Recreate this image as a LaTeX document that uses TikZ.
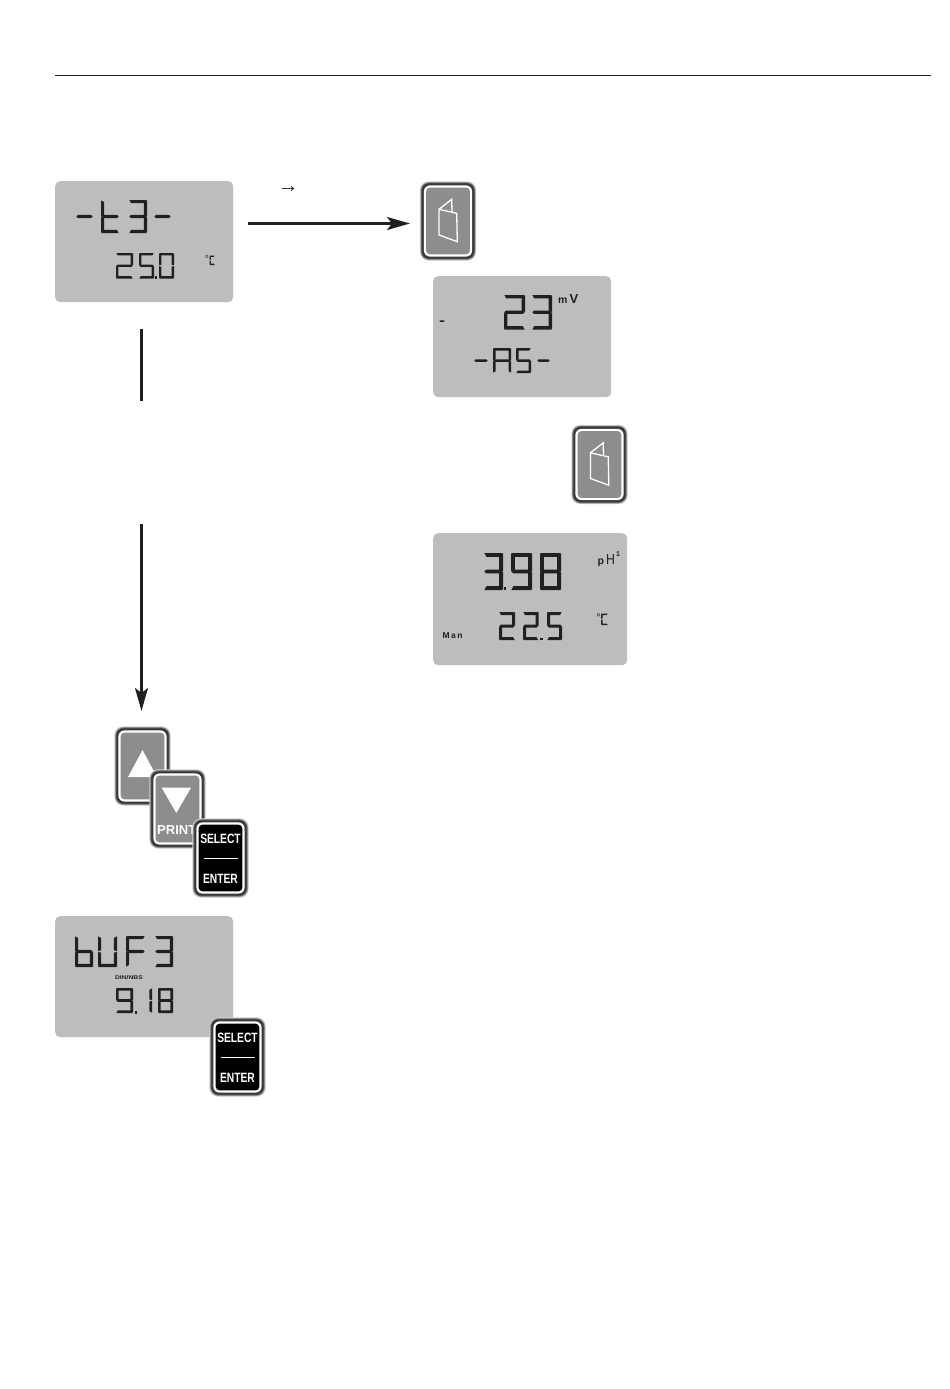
\documentclass[tikz,border=0pt]{standalone}
\usepackage{fontspec}
\setmainfont{Liberation Sans}
\usetikzlibrary{arrows.meta}
\definecolor{lcdbg}{HTML}{BDBDBD}
\definecolor{lcdink}{HTML}{231F20}
\definecolor{keygrey}{HTML}{8E8C8C}
\tikzset{
  panel/.style={fill=lcdbg,draw=none,rounded corners=5pt,inner sep=0pt,anchor=north west},
  conn/.style={draw=lcdink,line width=2.2pt},
  connarrow/.style={conn,-{Stealth[length=23pt,width=13pt,inset=5pt]}},
  lcdsmall/.style={text=lcdink,inner sep=0pt},
  keytext/.style={text=white,inner sep=0pt,font=\bfseries\fontsize{13.5}{14}\selectfont,xscale=0.76},
  bookline/.style={draw=white,line width=1.3pt,line join=miter},
}
% bevel \Db = how far the inner edge of a segment is cut back
\newcommand\SegA{\fill[lcdink] (\Dx+\Dg,\Dy) -- (\Dx+\Dw-\Dg,\Dy) -- (\Dx+\Dw-\Dg-\Db,\Dy+\Dt) -- (\Dx+\Dg+\Db,\Dy+\Dt) -- cycle;}
\newcommand\SegD{\fill[lcdink] (\Dx+\Dg,\Dy+\Dh) -- (\Dx+\Dw-\Dg,\Dy+\Dh) -- (\Dx+\Dw-\Dg-\Db,\Dy+\Dh-\Dt) -- (\Dx+\Dg+\Db,\Dy+\Dh-\Dt) -- cycle;}
\newcommand\SegG{\fill[lcdink] (\Dx+\Dg,\Dy+\Dh/2) -- (\Dx+\Dg+\Db,\Dy+\Dh/2-\Dt/2) -- (\Dx+\Dw-\Dg-\Db,\Dy+\Dh/2-\Dt/2) -- (\Dx+\Dw-\Dg,\Dy+\Dh/2) -- (\Dx+\Dw-\Dg-\Db,\Dy+\Dh/2+\Dt/2) -- (\Dx+\Dg+\Db,\Dy+\Dh/2+\Dt/2) -- cycle;}
\newcommand\SegF{\fill[lcdink] (\Dx,\Dy+\Dg) -- (\Dx+\Dt,\Dy+\Dg+\Db) -- (\Dx+\Dt,\Dy+\Dh/2-\Dg-\Db/2) -- (\Dx,\Dy+\Dh/2-\Dg) -- cycle;}
\newcommand\SegE{\fill[lcdink] (\Dx,\Dy+\Dh/2+\Dg) -- (\Dx+\Dt,\Dy+\Dh/2+\Dg+\Db/2) -- (\Dx+\Dt,\Dy+\Dh-\Dg-\Db) -- (\Dx,\Dy+\Dh-\Dg) -- cycle;}
\newcommand\SegB{\fill[lcdink] (\Dx+\Dw,\Dy+\Dg) -- (\Dx+\Dw-\Dt,\Dy+\Dg+\Db) -- (\Dx+\Dw-\Dt,\Dy+\Dh/2-\Dg-\Db/2) -- (\Dx+\Dw,\Dy+\Dh/2-\Dg) -- cycle;}
\newcommand\SegC{\fill[lcdink] (\Dx+\Dw,\Dy+\Dh/2+\Dg) -- (\Dx+\Dw-\Dt,\Dy+\Dh/2+\Dg+\Db/2) -- (\Dx+\Dw-\Dt,\Dy+\Dh-\Dg-\Db) -- (\Dx+\Dw,\Dy+\Dh-\Dg) -- cycle;}
% #1 x, #2 top, #3 width, #4 height, #5 stroke, #6 segments
\newcommand\sevenseg[6]{%
  \def\Dx{#1}\def\Dy{#2}\def\Dw{#3}\def\Dh{#4}\def\Dt{#5}\def\Dg{0.35}\pgfmathsetmacro\Db{#5*.55}%
  \foreach \s in {#6}{\csname Seg\s\endcsname}}
\newcommand\lcddot[3]{\fill[lcdink] (#1,#2) rectangle +(#3,-#3);}
% #1 name, #2 x, #3 y, #4 face colour
\newcommand\keycap[4]{%
  \begin{scope}[shift={(#2,#3)}]
    \fill[black!18,rounded corners=9pt] (-.7,-.7) rectangle (55.7,78.7);
    \fill[black!38,rounded corners=8.5pt] (0,0) rectangle (55,78);
    \fill[black!60,rounded corners=8pt] (.7,.7) rectangle (54.3,77.3);
    \fill[black!78,rounded corners=7pt] (1.4,1.4) rectangle (53.6,76.6);
    \fill[white,rounded corners=6pt] (3.4,3.4) rectangle (51.6,74.6);
    \fill[#4,rounded corners=4pt] (5.6,5.6) rectangle (49.4,72.4);
    \coordinate (#1) at (27.5,39);
  \end{scope}}
\newcommand\bookicon[2]{%
  \begin{scope}[shift={(#1,#2)}]
    \draw[bookline] (18.5,27.3) -- (36.2,31.3) -- (36.8,59.7) -- (18.5,53) -- cycle;
    \draw[bookline] (18.5,27.3) -- (31.2,17.3) -- (31.5,30);
  \end{scope}}
\begin{document}
\begin{tikzpicture}[x=1pt,y=-1pt]
\useasboundingbox (0,0) rectangle (950,1389);
\fill[white] (0,0) rectangle (950,1389);
\coordinate (ruleL) at (55,75.5);
\coordinate (ruleR) at (931,75.5);
\draw[lcdink,line width=.8pt] (ruleL) -- (ruleR);

% panels
\node[panel,minimum width=178pt,minimum height=121pt] (p1) at (55,181) {};
\node[panel,minimum width=178pt,minimum height=121pt] (p2) at (433,276) {};
\node[panel,minimum width=194pt,minimum height=132pt] (p3) at (433,533) {};
\node[panel,minimum width=178pt,minimum height=121pt] (p4) at (55,916) {};

% panel 1
\sevenseg{76}{200}{17}{33}{3.2}{G}
\sevenseg{101}{200}{18}{33}{3.2}{F,E,G,D}
\sevenseg{129}{200}{18}{33}{3.2}{A,B,C,D,G}
\sevenseg{154}{200}{17}{33}{3.2}{G}
\sevenseg{116}{253}{17}{25.5}{2.4}{A,B,G,E,D}
\sevenseg{139}{253}{15}{25.5}{2.4}{A,F,G,C,D}
\lcddot{155}{278.5}{2.2}
\sevenseg{159}{253}{15}{25.5}{2.4}{A,B,C,D,E,F}
\node[lcdsmall,font=\fontsize{10}{10}\selectfont,anchor=base] (c1) at (206.8,262.2) {°};
\sevenseg{209.5}{255.5}{5.5}{9.5}{1.3}{A,F,E,D}

% panel 2
\sevenseg{504}{295}{21}{34.5}{3.3}{A,B,G,E,D}
\sevenseg{532}{295}{20}{34.5}{3.3}{A,B,C,D,G}
\node[lcdsmall,font=\bfseries\fontsize{10.5}{11}\selectfont,anchor=base west] (mv) at (558,303.5) {m};
\node[lcdsmall,font=\bfseries\fontsize{13}{13}\selectfont,anchor=base west] (mv2) at (569.5,303.5) {V};
\sevenseg{439}{316}{6}{10}{1.5}{G}
\sevenseg{474}{348}{14}{25}{2.5}{G}
\sevenseg{493}{348}{18}{25}{2.5}{A,B,C,E,F,G}
\sevenseg{516}{348}{15}{25}{2.5}{A,F,G,C,D}
\sevenseg{537}{348}{13}{25}{2.5}{G}

% panel 3
\sevenseg{484}{553}{19}{37}{3.8}{A,B,C,D,G}
\lcddot{503.5}{590}{2.8}
\sevenseg{511}{553}{21}{37}{3.8}{A,B,C,D,F,G}
\sevenseg{540}{553}{21}{37}{3.8}{A,B,C,D,E,F,G}
\sevenseg{499}{612}{16}{28}{3}{A,B,G,E,D}
\sevenseg{523}{612}{15.5}{28}{3}{A,B,G,E,D}
\lcddot{540}{640}{2.5}
\sevenseg{547}{612}{15}{28}{3}{A,F,G,C,D}
\node[lcdsmall,font=\bfseries\fontsize{10.5}{11}\selectfont,anchor=base west] (ph) at (597.5,564) {p};
\node[lcdsmall,font=\fontsize{14.5}{15}\selectfont,anchor=base west,xscale=.85] (ph2) at (606,564) {H};
\node[lcdsmall,font=\bfseries\fontsize{7}{7}\selectfont,anchor=base west] (ph3) at (616,556) {1};
\node[lcdsmall,font=\fontsize{11}{11}\selectfont,anchor=base] (c3) at (598.5,621) {°};
\sevenseg{601}{613.5}{7}{11.5}{1.5}{A,F,E,D}
\node[lcdsmall,font=\bfseries\fontsize{8.5}{9}\selectfont,anchor=base west] (man) at (442.5,638.5) {M\kern1.4pt a\kern1.4pt n};

% panel 4
\sevenseg{75}{936}{18}{31}{3.2}{F,E,G,C,D}
\sevenseg{98}{936}{19}{31}{3.2}{F,E,D,C,B}
\sevenseg{126}{936}{19}{31}{3.2}{A,F,G,E}
\sevenseg{155}{936}{18}{31}{3.2}{A,B,C,D,G}
\node[lcdsmall,font=\bfseries\fontsize{5.4}{5.4}\selectfont,xscale=1.25] (din) at (129,978) {DIN/NBS};
\sevenseg{116}{988}{17}{25}{2.7}{A,B,C,D,F,G}
\lcddot{135}{1013.5}{2.2}
\sevenseg{141}{988}{11}{25}{2.7}{C,B}
\sevenseg{158}{988}{15}{25}{2.7}{A,B,C,D,E,F,G}

% connectors
\coordinate (a1s) at (248,223.5);
\coordinate (a1e) at (410,223.5);
\coordinate (l1s) at (141.5,329);
\coordinate (l1e) at (141.5,401);
\coordinate (l2s) at (141.5,524);
\coordinate (l2e) at (141.5,711);
\draw[connarrow] (a1s) -- (a1e);
\draw[conn] (l1s) -- (l1e);
\draw[connarrow] (l2s) -- (l2e);
\node[inner sep=0pt,text=lcdink,font=\fontsize{21}{21}\selectfont] (arr) at (288,189.5) {→};

% book keys
\keycap{k1}{420.5}{182}{keygrey}
\bookicon{420.5}{182}
\keycap{k2}{572}{425.5}{keygrey}
\bookicon{572}{425.5}

% arrow keys
\keycap{kup}{115}{727}{keygrey}
\fill[white] (142.5,750) -- (128,777) -- (157,777) -- cycle;
\keycap{kdn}{150}{770}{keygrey}
\fill[white] (161.7,787.7) -- (191,787.7) -- (176.3,813) -- cycle;
\node[inner sep=0pt,text=white,font=\bfseries\fontsize{13}{14}\selectfont,anchor=base west] (print) at (157,834.5) {PRINT};

% select keys
\keycap{ks1}{193}{819}{black}
\node[keytext] (s1a) at (220.5,838.5) {SELECT};
\draw[white,line width=1pt] (ks1)++(-17,0) -- ++(34,0);
\node[keytext] (s1b) at (220.5,878.5) {ENTER};
\keycap{ks2}{210}{1018}{black}
\node[keytext] (s2a) at (237.5,1037.5) {SELECT};
\draw[white,line width=1pt] (ks2)++(-17,0) -- ++(34,0);
\node[keytext] (s2b) at (237.5,1077.5) {ENTER};
\end{tikzpicture}
\end{document}
